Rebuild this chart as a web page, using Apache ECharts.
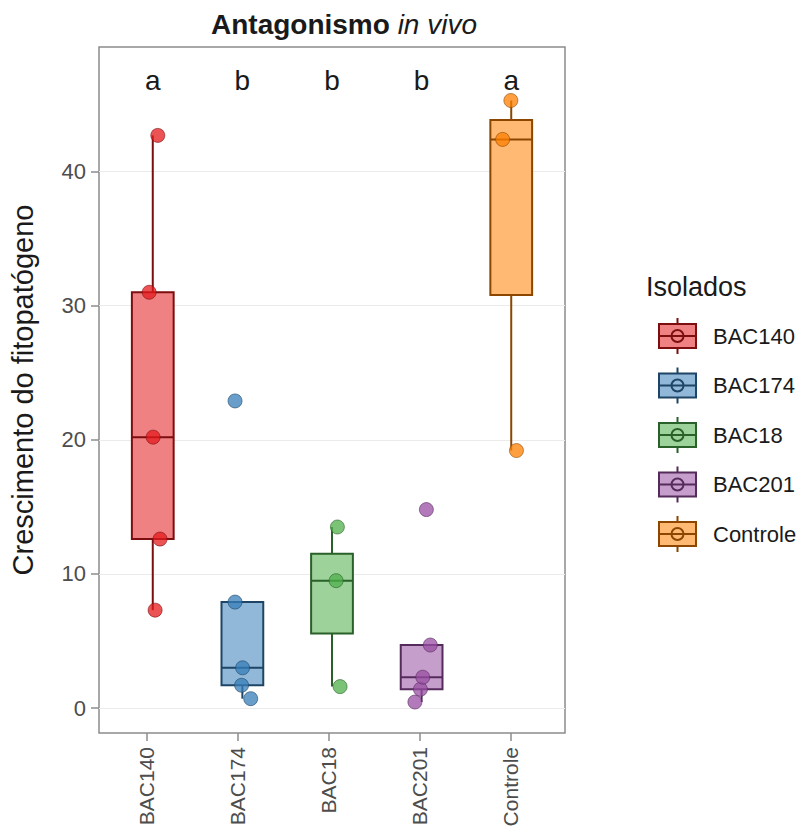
<!DOCTYPE html>
<html>
<head>
<meta charset="utf-8">
<script src="https://cdn.jsdelivr.net/npm/echarts@6/dist/echarts.min.js"></script>
<style>
html,body{margin:0;padding:0;background:#fff;}
#chart{width:803px;height:836px;}
</style>
</head>
<body>
<div id="chart"></div>
<script>
// ---- Data ----
const categories = ['BAC140', 'BAC174', 'BAC18', 'BAC201', 'Controle'];
const valuesBAC140 = [7.3, 12.6, 20.2, 31.0, 42.7];
const valuesBAC174 = [0.7, 1.7, 3.0, 7.9, 22.9];
const valuesBAC18 = [1.6, 9.5, 13.5];
const valuesBAC201 = [0.45, 1.4, 2.3, 4.7, 14.8];
const valuesControle = [19.2, 42.4, 45.3];
// horizontal jitter of each point (category units)
const jitterBAC140 = [0.026, 0.081, 0.004, -0.04, 0.056];
const jitterBAC174 = [0.093, -0.009, 0.002, -0.082, -0.082];
const jitterBAC18 = [0.09, 0.046, 0.06];
const jitterBAC201 = [-0.075, -0.013, 0.013, 0.097, 0.053];
const jitterControle = [0.058, -0.096, -0.004];
const groupLetters = ['a', 'b', 'b', 'b', 'a'];
const letterLevel = 46.8;
const yTickValues = [0, 10, 20, 30, 40];
const chartTitleBold = 'Antagonismo';
const chartTitleItalic = 'in vivo';
const yAxisTitle = 'Crescimento do fitopatógeno';
const legendTitle = 'Isolados';

const groupValues = [valuesBAC140, valuesBAC174, valuesBAC18, valuesBAC201, valuesControle];
const groupJitter = [jitterBAC140, jitterBAC174, jitterBAC18, jitterBAC201, jitterControle];

// ---- Styles ----
const baseColors = ['#E41A1C', '#377EB8', '#4DAF4A', '#984EA3', '#FF7F00'];
const FONT = '"Liberation Sans", Arial, sans-serif';
function mix(hex, f, toWhite) {
  const n = parseInt(hex.slice(1), 16);
  const c = [(n >> 16) & 255, (n >> 8) & 255, n & 255].map(v =>
    Math.round(toWhite ? 255 - (255 - v) * f : v * f));
  return 'rgb(' + c.join(',') + ')';
}
const fillColors = baseColors.map(c => mix(c, 0.55, true));
const darkColors = baseColors.map(c => mix(c, 0.55, false));

// ---- Box statistics (quantile type 7, Tukey whiskers) ----
function quantile(sorted, p) {
  const h = (sorted.length - 1) * p;
  const lo = Math.floor(h);
  const hi = Math.min(lo + 1, sorted.length - 1);
  return sorted[lo] + (h - lo) * (sorted[hi] - sorted[lo]);
}
function boxStats(vals) {
  const s = vals.slice().sort((a, b) => a - b);
  const q1 = quantile(s, 0.25), med = quantile(s, 0.5), q3 = quantile(s, 0.75);
  const iqr = q3 - q1;
  const inside = s.filter(v => v >= q1 - 1.5 * iqr && v <= q3 + 1.5 * iqr);
  return [Math.min(...inside), q1, med, q3, Math.max(...inside)];
}

// ---- Layout ----
const GL = 92, GW = 473, GT = 47, GH = 686;
const unit = GW / 5.2;
const YMIN = -1.86, YMAX = 49.29;
const HW = 0.233;

const chart = echarts.init(document.getElementById('chart'), null, { renderer: 'svg' });

const series = [];
categories.forEach((cat, i) => {
  const st = boxStats(groupValues[i]);
  series.push({
    type: 'custom',
    name: cat,
    xAxisIndex: 0, yAxisIndex: 0,
    z: 1,
    data: [[i].concat(st)],
    encode: { x: 0, y: [1, 2, 3, 4, 5] },
    renderItem: function (params, api) {
      const x = api.value(0);
      const lo = api.value(1), q1 = api.value(2), med = api.value(3), q3 = api.value(4), hi = api.value(5);
      const tl = api.coord([x - HW, q3]);
      const br = api.coord([x + HW, q1]);
      const cTop = api.coord([x, q3]), cHi = api.coord([x, hi]);
      const cBot = api.coord([x, q1]), cLo = api.coord([x, lo]);
      const mL = api.coord([x - HW, med]), mR = api.coord([x + HW, med]);
      const stroke = { stroke: darkColors[i], lineWidth: 2 };
      return {
        type: 'group',
        children: [
          { type: 'line', shape: { x1: cTop[0], y1: cTop[1], x2: cHi[0], y2: cHi[1] }, style: stroke },
          { type: 'line', shape: { x1: cBot[0], y1: cBot[1], x2: cLo[0], y2: cLo[1] }, style: stroke },
          { type: 'rect', shape: { x: tl[0], y: tl[1], width: br[0] - tl[0], height: br[1] - tl[1] },
            style: { fill: fillColors[i], stroke: darkColors[i], lineWidth: 2 } },
          { type: 'line', shape: { x1: mL[0], y1: mL[1], x2: mR[0], y2: mR[1] }, style: stroke }
        ]
      };
    }
  });
  series.push({
    type: 'scatter',
    name: cat,
    xAxisIndex: 0, yAxisIndex: 0,
    z: 3,
    symbolSize: 14,
    itemStyle: { color: baseColors[i], opacity: 0.75, borderColor: darkColors[i], borderWidth: 0.8 },
    data: groupValues[i].map((v, k) => [i + groupJitter[i][k], v])
  });
});
// significance letters
series.push({
  type: 'custom',
  xAxisIndex: 0, yAxisIndex: 0,
  z: 4,
  data: groupLetters.map((l, i) => [i, letterLevel, l]),
  renderItem: function (params, api) {
    const p = api.coord([api.value(0), api.value(1)]);
    return {
      type: 'text', x: p[0], y: p[1],
      style: { text: groupLetters[params.dataIndex], fontSize: 28, fontFamily: FONT,
               fill: '#1a1a1a', align: 'center', verticalAlign: 'middle' }
    };
  }
});

const ICON = 'path://M0,6 L37,6 L37,30 L0,30 Z M18.5,0 L18.5,6 M18.5,30 L18.5,36 M0,18 L37,18 M24.5,18 A6,6 0 1,1 12.5,18 A6,6 0 1,1 24.5,18 Z';

const option = {
  animation: false,
  backgroundColor: '#ffffff',
  title: [
    {
      text: '{b|' + chartTitleBold + ' }{i|' + chartTitleItalic + '}',
      left: 339, top: 5, textAlign: 'center',
      textStyle: {
        rich: {
          b: { fontSize: 28, fontWeight: 'bold', fontFamily: FONT, color: '#1a1a1a' },
          i: { fontSize: 28, fontStyle: 'italic', fontWeight: 'normal', fontFamily: FONT, color: '#1a1a1a' }
        }
      }
    },
    {
      text: legendTitle, left: 641, top: 268,
      textStyle: { fontSize: 27, fontWeight: 'normal', fontFamily: FONT, color: '#1a1a1a' }
    }
  ],
  legend: {
    orient: 'vertical',
    left: 653, top: 312,
    itemWidth: 37, itemHeight: 36, itemGap: 11.5,
    selectedMode: false,
    textStyle: { fontSize: 22, fontFamily: FONT, color: '#1a1a1a', padding: [0, 0, 0, 12] },
    data: categories.map((c, i) => ({
      name: c, icon: ICON,
      itemStyle: { color: fillColors[i], borderColor: darkColors[i], borderWidth: 2 }
    }))
  },
  grid: [
    { left: GL, top: GT, width: GW, height: GH, show: true, borderColor: '#8c8c8c', borderWidth: 1.5, backgroundColor: 'transparent' },
    { left: GL + 0.1 * unit, top: GT, width: 5 * unit, height: GH }
  ],
  xAxis: [
    { type: 'value', gridIndex: 0, min: -0.6, max: 4.6, show: false, splitLine: { show: false },
      axisLine: { show: false }, axisTick: { show: false }, axisLabel: { show: false } },
    {
      type: 'category', gridIndex: 1, data: categories, boundaryGap: true, position: 'bottom',
      axisLine: { show: false, onZero: false },
      axisTick: { show: true, alignWithLabel: true, length: 8, lineStyle: { color: '#8c8c8c', width: 1.5 } },
      axisLabel: { rotate: 90, fontSize: 21, fontFamily: FONT, color: '#4d4d4d', margin: 14 },
      splitLine: { show: false }
    }
  ],
  yAxis: [
    {
      type: 'value', gridIndex: 0, min: YMIN, max: YMAX,
      name: yAxisTitle, nameLocation: 'middle', nameGap: 62, nameRotate: 90,
      nameTextStyle: { fontSize: 29, fontFamily: FONT, color: '#1a1a1a' },
      axisLine: { show: false, onZero: false },
      axisTick: { show: true, customValues: yTickValues, length: 8, lineStyle: { color: '#8c8c8c', width: 1.5 } },
      axisLabel: { customValues: yTickValues, fontSize: 22, fontFamily: FONT, color: '#4d4d4d', margin: 13 },
      splitLine: { show: true, lineStyle: { color: '#ebebeb', width: 1.2 } }
    },
    { type: 'value', gridIndex: 1, min: YMIN, max: YMAX, show: false, splitLine: { show: false } }
  ],
  series: series
};
chart.setOption(option);
</script>
</body>
</html>
